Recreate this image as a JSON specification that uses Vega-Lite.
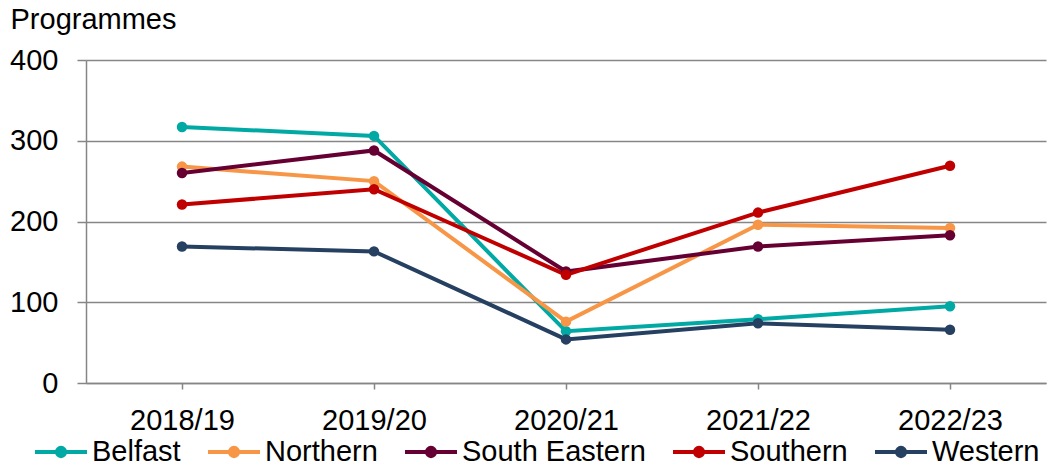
{
  "$schema": "https://vega.github.io/schema/vega-lite/v6.json",
  "width": 960,
  "height": 323,
  "autosize": {"type": "none"},
  "padding": {"left": 86, "top": 60, "right": 1, "bottom": 85},
  "config": {"font": "Liberation Sans", "view": {"stroke": null}},
  "data": {
    "values": [
      {"year": "2018/19", "region": "Belfast", "programmes": 317},
      {"year": "2019/20", "region": "Belfast", "programmes": 306},
      {"year": "2020/21", "region": "Belfast", "programmes": 64},
      {"year": "2021/22", "region": "Belfast", "programmes": 79},
      {"year": "2022/23", "region": "Belfast", "programmes": 95},
      {"year": "2018/19", "region": "Northern", "programmes": 268},
      {"year": "2019/20", "region": "Northern", "programmes": 250},
      {"year": "2020/21", "region": "Northern", "programmes": 76},
      {"year": "2021/22", "region": "Northern", "programmes": 196},
      {"year": "2022/23", "region": "Northern", "programmes": 192},
      {"year": "2018/19", "region": "South Eastern", "programmes": 260},
      {"year": "2019/20", "region": "South Eastern", "programmes": 288},
      {"year": "2020/21", "region": "South Eastern", "programmes": 138},
      {"year": "2021/22", "region": "South Eastern", "programmes": 169},
      {"year": "2022/23", "region": "South Eastern", "programmes": 183},
      {"year": "2018/19", "region": "Southern", "programmes": 221},
      {"year": "2019/20", "region": "Southern", "programmes": 240},
      {"year": "2020/21", "region": "Southern", "programmes": 134},
      {"year": "2021/22", "region": "Southern", "programmes": 211},
      {"year": "2022/23", "region": "Southern", "programmes": 269},
      {"year": "2018/19", "region": "Western", "programmes": 169},
      {"year": "2019/20", "region": "Western", "programmes": 163},
      {"year": "2020/21", "region": "Western", "programmes": 54},
      {"year": "2021/22", "region": "Western", "programmes": 74},
      {"year": "2022/23", "region": "Western", "programmes": 66}
    ]
  },
  "encoding": {
    "x": {
      "field": "year",
      "type": "ordinal",
      "sort": null,
      "scale": {"type": "point", "padding": 0.5},
      "axis": {
        "title": null,
        "labelAngle": 0,
        "labelFontSize": 29,
        "labelColor": "#000000",
        "labelPadding": 17,
        "tickSize": 6,
        "tickColor": "#868686",
        "tickWidth": 1.5,
        "domainColor": "#868686",
        "domainWidth": 1.5,
        "grid": false
      }
    },
    "y": {
      "field": "programmes",
      "type": "quantitative",
      "scale": {"domain": [0, 400], "nice": false},
      "axis": {
        "title": "Programmes",
        "titleAngle": 0,
        "titleX": -76,
        "titleY": -32,
        "titleAlign": "left",
        "titleBaseline": "alphabetic",
        "titleFontSize": 29,
        "titleFontWeight": "normal",
        "titleColor": "#000000",
        "values": [0, 100, 200, 300, 400],
        "labelFontSize": 29,
        "labelColor": "#000000",
        "labelPadding": 19,
        "tickSize": 9,
        "tickColor": "#868686",
        "tickWidth": 1.5,
        "domainColor": "#868686",
        "domainWidth": 1.5,
        "gridColor": "#868686",
        "gridWidth": 1.5
      }
    },
    "color": {
      "field": "region",
      "type": "nominal",
      "scale": {
        "domain": ["Belfast", "Northern", "South Eastern", "Southern", "Western"],
        "range": ["#00A9A4", "#F79646", "#660033", "#C00000", "#254061"]
      },
      "legend": {
        "title": null,
        "orient": "none",
        "direction": "horizontal",
        "columns": 5,
        "legendX": -53,
        "legendY": 364,
        "symbolType": "M -1 0 L 1 0 M 0.16 0 A 0.16 0.16 0 1 1 -0.16 0 A 0.16 0.16 0 1 1 0.16 0 Z",
        "symbolSize": 2704,
        "symbolStrokeWidth": 4,
        "symbolOpacity": 1,
        "labelFontSize": 29,
        "labelColor": "#000000",
        "labelOffset": 3,
        "labelLimit": 400,
        "columnPadding": 19,
        "encode": {
          "symbols": {
            "update": {
              "fill": {"scale": "color", "field": "value"},
              "stroke": {"scale": "color", "field": "value"},
              "opacity": {"value": 1}
            }
          }
        }
      }
    }
  },
  "layer": [
    {"mark": {"type": "line", "strokeWidth": 4}},
    {"mark": {"type": "point", "filled": true, "size": 110, "opacity": 1}}
  ]
}
